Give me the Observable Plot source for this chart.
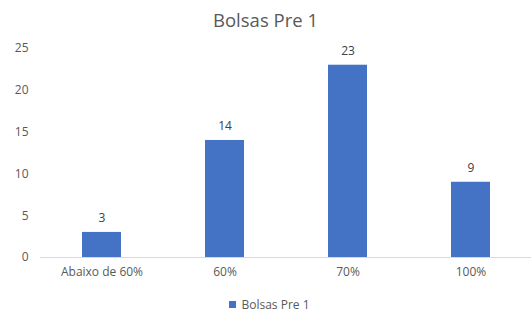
<!DOCTYPE html>
<html>
<head>
<meta charset="utf-8">
<script src="https://cdn.jsdelivr.net/npm/d3@7"></script>
<script src="https://cdn.jsdelivr.net/npm/@observablehq/plot@0.6"></script>
<style>
  body { margin: 0; background: #fff; font-family: "Open Sans", sans-serif; }
  #wrap { width: 531px; height: 318px; position: relative; overflow: hidden; }
  #title { height: 36px; line-height: 39px; text-align: center; font-size: 18.5px; color: #595959; }
  #legend { height: 28px; display: flex; justify-content: center; align-items: center; font-size: 12px; color: #595959; padding-left: 8px; }
  #legend .sw { width: 7px; height: 7px; background: #4472C4; margin-right: 5px; }
  svg { overflow: visible; }
</style>
</head>
<body>
<div id="wrap">
  <div id="title">Bolsas Pre 1</div>
  <div id="chart"></div>
  <div id="legend"><span class="sw"></span><span>Bolsas Pre 1</span></div>
</div>
<script>
const categories = ["Abaixo de 60%", "60%", "70%", "100%"];
const values = [3, 14, 23, 9];
const yTicks = [0, 5, 10, 15, 20, 25];
const seriesName = "Bolsas Pre 1";

const data = categories.map((c, i) => ({ category: c, value: values[i] }));

const plot = Plot.plot({
  width: 531,
  height: 254,
  marginTop: 12,
  marginBottom: 33,
  marginLeft: 40,
  marginRight: -2,
  style: { fontFamily: "Open Sans, sans-serif", fontSize: "12px", color: "#595959", background: "white" },
  x: { domain: categories, paddingInner: 0.68, paddingOuter: 0.34, label: null, tickSize: 0, tickPadding: 10 },
  y: { domain: [0, 25], ticks: yTicks, label: null, tickSize: 0, tickPadding: 12 },
  marks: [
    Plot.barY(data, { x: "category", y: "value", fill: "#4472C4" }),
    Plot.ruleY([0], { stroke: "#d9d9d9", strokeWidth: 1 }),
    Plot.text(data, { x: "category", y: "value", text: d => String(d.value), dy: -14, fill: "#404040", fontSize: 12 })
  ]
});
document.getElementById("chart").appendChild(plot);
</script>
</body>
</html>
